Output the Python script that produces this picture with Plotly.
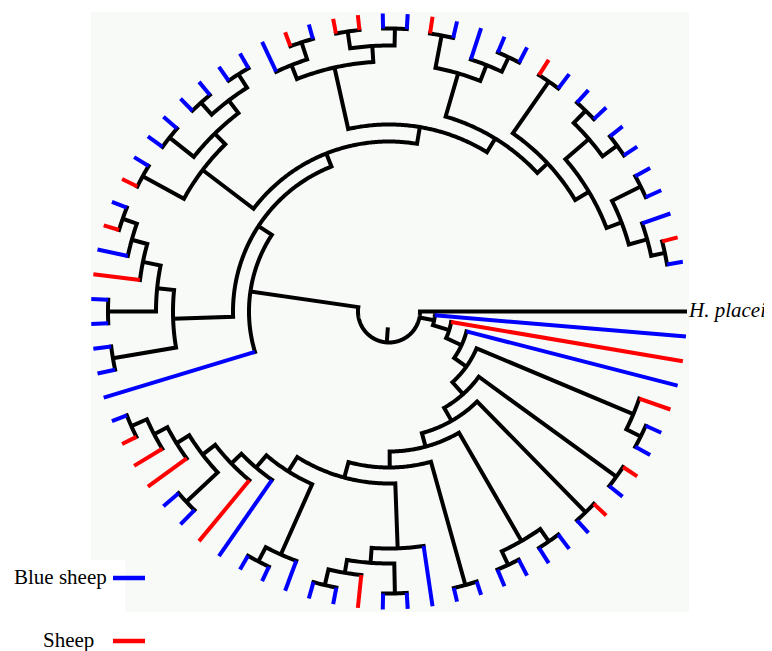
import math
import plotly.graph_objects as go

# ---------------- data ----------------
# Host of each ingroup leaf, in the counter-clockwise order of the tips (1..73)
LEAF_HOST = [
    "B", "R", "B", "B", "B", "B", "B", "B", "B", "B",
    "R", "B", "B", "B", "B", "R", "B", "B", "R", "R",
    "B", "R", "B", "B", "B", "B", "B", "B", "B", "B",
    "R", "B", "R", "B", "R", "B", "B", "B", "B", "B",
    "B", "R", "R", "R", "B", "B", "R", "B", "B", "B",
    "B", "B", "B", "R", "B", "B", "B", "B", "B", "B",
    "B", "B", "B", "B", "R", "B", "R", "B", "B", "R",
    "B", "R", "B",
]
HOST_NAMES = {"B": "Blue sheep", "R": "Sheep"}
OUTGROUP_ID = "H"
OUTGROUP_LABEL = "H. placei"

# Clades (Newick; leaf ids = tip numbers, internal labels = node depth)
CLADE_E5 = "((1,2)282,3)268"
CLADE_E4 = "(" + CLADE_E5 + ",(4,5)281)249"
CLADE_F1 = "((6,7)282,(8,9)281)264"
CLADE_E3 = "(" + CLADE_E4 + "," + CLADE_F1 + ")233"
CLADE_E2 = "(" + CLADE_E3 + ",(10,11)280)217"
CLADE_C1 = "(((12,13)281,14)265,(15,16)281)248"
CLADE_E = "(" + CLADE_E2 + "," + CLADE_C1 + ")203"
CLADE_B2A = "(((17,18)283,(19,20)283)266,((21,22)283,23)265)250"
CLADE_B2 = "(" + CLADE_E + "," + CLADE_B2A + ")187"
CLADE_B1 = "((((24,25)281,(26,27)281)265,(28,29)280)249,(30,31)281)234"
CLADE_A2 = "(" + CLADE_B2 + "," + CLADE_B1 + ")170"
CLADE_A1 = "(((((32,33)282,34)267,35)251,(36,37)281)233,(38,39)280)216"
CLADE_A = "(" + CLADE_A2 + "," + CLADE_A1 + ")156"
CLADE_UPPER = "(" + CLADE_A + ",40)140"

CLADE_Z3 = "(((41,42)282,43)265,44)250"
CLADE_Z4 = "(" + CLADE_Z3 + ",(45,46)278)235"
CLADE_Z5 = "(" + CLADE_Z4 + ",47)219"
CLADE_Z6 = "(" + CLADE_Z5 + ",48)205"
CLADE_W = "((49,50)282,51)266"
CLADE_Z7 = "(" + CLADE_Z6 + "," + CLADE_W + ")189"
CLADE_R = "((((52,53)281,54)265,(55,56)282)252,57)237"
CLADE_V = "(" + CLADE_Z7 + "," + CLADE_R + ")172"
CLADE_U = "(" + CLADE_V + ",(58,59)284)156"
CLADE_U2 = "(" + CLADE_U + ",((60,61)280,(62,63)280)265)140"
CLADE_U3 = "(" + CLADE_U2 + ",(64,65)281)126"
CLADE_U4 = "(" + CLADE_U3 + ",(66,67)281)111"
CLADE_U5 = "(" + CLADE_U4 + ",((68,69)281,70)265)95"
CLADE_U6 = "(" + CLADE_U5 + ",71)80"
CLADE_U7 = "(" + CLADE_U6 + ",72)63"
CLADE_U8 = "(" + CLADE_U7 + ",73)46"
TREE = "(" + CLADE_UPPER + "," + CLADE_U8 + "," + OUTGROUP_ID + ")31"

TIP_DEPTH = 298
ROOT_STUB_DEPTH = 16
N_SLOTS = 75          # angular slots around the circle
FIRST_SLOT = 2        # slot of tip 1

# ---------------- style ----------------
COLORS = {"B": "#0000ff", "R": "#ff0000"}
LW = 4
SERIF = "Liberation Serif, Times New Roman, serif"
PAGE_W, PAGE_H = 772, 651
BODY_MARGIN = 8                      # default page margin around the plot div
W, H = PAGE_W - BODY_MARGIN, PAGE_H - BODY_MARGIN


def px(x):   # page x pixel -> paper fraction
    return (x - BODY_MARGIN) / W


def py(y):   # page y pixel -> paper fraction
    return 1 - (y - BODY_MARGIN) / H


# ---------------- tree parsing / layout ----------------
def parse(s):
    pos = 0

    def label():
        nonlocal pos
        st = pos
        while pos < len(s) and s[pos] not in ",()":
            pos += 1
        return s[st:pos]

    def node():
        nonlocal pos
        if s[pos] == "(":
            pos += 1
            kids = [node()]
            while s[pos] == ",":
                pos += 1
                kids.append(node())
            pos += 1
            return {"kids": kids, "r": float(label())}
        return {"leaf": label()}

    return node()


root = parse(TREE)
order = []


def layout(n):
    if "leaf" in n:
        i = len(order)
        order.append(n["leaf"])
        n["r"] = TIP_DEPTH
        if n["leaf"] == OUTGROUP_ID:
            n["theta"] = 360.0
        else:
            n["theta"] = (i + FIRST_SLOT) * 360.0 / N_SLOTS
        return
    for k in n["kids"]:
        layout(k)
    n["theta"] = (n["kids"][0]["theta"] + n["kids"][-1]["theta"]) / 2


layout(root)
assert order == [str(i) for i in range(1, 74)] + [OUTGROUP_ID], order

black_r, black_t = [], []
col_r = {"B": [], "R": []}
col_t = {"B": [], "R": []}


def is_black(k):
    return "kids" in k or k["leaf"] == OUTGROUP_ID


def arc_pts(r, t0, t1):
    n = max(2, int(abs(t1 - t0) / 0.5) + 1)
    return [r] * n, [t0 + (t1 - t0) * i / (n - 1) for i in range(n)]


def draw(n):
    kids = n["kids"]
    ext = math.degrees((LW / 2) / n["r"])
    k0, kN = kids[0], kids[-1]
    pr, pt = [], []
    t_start, t_end = k0["theta"], kN["theta"]
    if is_black(k0):
        pr.append(k0["r"]); pt.append(k0["theta"])
    else:
        t_start -= ext
    if not is_black(kN):
        t_end += ext
    ar, at = arc_pts(n["r"], t_start, t_end)
    pr += ar; pt += at
    if is_black(kN):
        pr.append(kN["r"]); pt.append(kN["theta"])
    black_r.extend(pr + [None]); black_t.extend(pt + [None])
    for j, k in enumerate(kids):
        if not is_black(k):
            h = LEAF_HOST[int(k["leaf"]) - 1]
            col_r[h] += [n["r"], k["r"], None]
            col_t[h] += [k["theta"], k["theta"], None]
        elif 0 < j < len(kids) - 1:
            black_r.extend([n["r"], k["r"], None])
            black_t.extend([k["theta"], k["theta"], None])
        if "kids" in k:
            draw(k)


draw(root)
black_r.extend([ROOT_STUB_DEPTH, root["r"], None])
black_t.extend([root["theta"], root["theta"], None])

fig = go.Figure()
fig.add_trace(go.Scatterpolar(r=black_r, theta=black_t, mode="lines",
                              line=dict(color="black", width=LW),
                              hoverinfo="skip", showlegend=False))
for h in ("B", "R"):
    fig.add_trace(go.Scatterpolar(r=col_r[h], theta=col_t[h], mode="lines",
                                  line=dict(color=COLORS[h], width=LW),
                                  name=HOST_NAMES[h], hoverinfo="skip",
                                  showlegend=False))
fig.add_trace(go.Scatterpolar(r=[TIP_DEPTH + 2], theta=[0], mode="text",
                              text=["<i>" + OUTGROUP_LABEL + "</i>"],
                              textposition="middle right", cliponaxis=False,
                              textfont=dict(family=SERIF, size=21, color="black"),
                              hoverinfo="skip", showlegend=False))

cx, cy, R = 389, 311.5, 300          # page pixels of the tree centre / radius
fig.update_layout(
    width=W, height=H, margin=dict(l=0, r=0, t=0, b=0),
    paper_bgcolor="white", showlegend=False,
    polar=dict(
        domain=dict(x=[px(cx - R), px(cx + R)], y=[py(cy + R), py(cy - R)]),
        bgcolor="rgba(0,0,0,0)",
        radialaxis=dict(range=[0, R], visible=False),
        angularaxis=dict(visible=False, rotation=0, direction="counterclockwise"),
    ),
    shapes=[
        dict(type="rect", xref="paper", yref="paper", layer="below",
             x0=px(91), x1=px(689), y0=py(612), y1=py(12),
             fillcolor="#f8faf8", line=dict(width=0)),
        dict(type="rect", xref="paper", yref="paper", layer="below",
             x0=0, x1=px(125), y0=0, y1=py(560),
             fillcolor="white", line=dict(width=0)),
        dict(type="line", xref="paper", yref="paper",
             x0=px(113), x1=px(145), y0=py(578), y1=py(578),
             line=dict(color=COLORS["B"], width=4.5)),
        dict(type="line", xref="paper", yref="paper",
             x0=px(113), x1=px(145), y0=py(641), y1=py(641),
             line=dict(color=COLORS["R"], width=4.5)),
    ],
    annotations=[
        dict(text=HOST_NAMES["B"], xref="paper", yref="paper",
             x=px(12), y=py(577), xanchor="left", yanchor="middle",
             showarrow=False, font=dict(family=SERIF, size=21, color="black")),
        dict(text=HOST_NAMES["R"], xref="paper", yref="paper",
             x=px(41), y=py(640), xanchor="left", yanchor="middle",
             showarrow=False, font=dict(family=SERIF, size=21, color="black")),
    ],
)
fig.write_html("out.html", config={"displayModeBar": False})
